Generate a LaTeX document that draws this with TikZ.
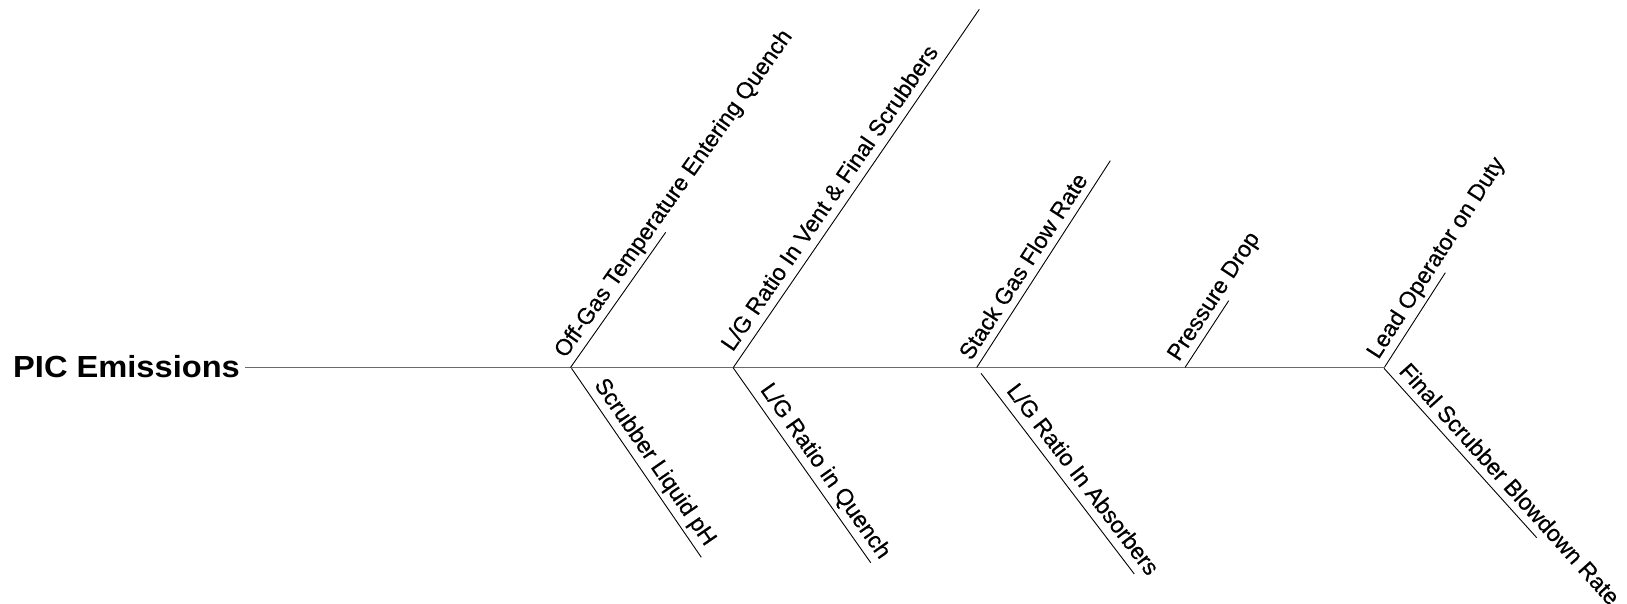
\documentclass[tikz,border=0pt]{standalone}
\usepackage{fontspec}
\usepackage{graphicx}
\setmainfont{Liberation Sans}
\newfontfamily\labfamily[FakeBold=0.5]{Liberation Sans}
\usetikzlibrary{calc}
\newcommand\labfont{\labfamily\fontsize{23}{28}\selectfont}
\newcommand\titlefont{\fontsize{30.5}{36}\selectfont\bfseries}
\newcommand\blabel[6]{\path ($(#1)!#3pt!90:(#2)$) -- ($(#2)!#3pt!-90:(#1)$) node[lab, pos=0, inner xsep=#4pt] (#5) {#6};}
\begin{document}
\begin{tikzpicture}[x=1pt,y=-1pt,
  spine/.style={draw=black!58, line width=1.6pt},
  branch/.style={draw=black, line width=0.9pt},
  lab/.style={sloped, anchor=base west, inner ysep=0pt, font=\labfont}]
\useasboundingbox (0,0) rectangle (1627,604);
% head
\node[anchor=base west, inner sep=0pt, font=\titlefont] (pic) at (13,377) {\scalebox{1.07}[1]{PIC Emissions}};
% coordinates
\coordinate (s0) at (245,367.5);
\coordinate (ju1) at (570.5,367.5);  \coordinate (eu1) at (665.7,232.3);
\coordinate (ju2) at (733.3,367.5);  \coordinate (eu2) at (979.3,9.3);
\coordinate (ju3) at (976.7,367.5);  \coordinate (eu3) at (1110.3,160.7);
\coordinate (ju4) at (1185,367.5);   \coordinate (eu4) at (1228.7,300.7);
\coordinate (ju5) at (1384.3,367.5); \coordinate (eu5) at (1445.3,272.7);
\coordinate (jl1) at (571.5,368.3);  \coordinate (el1) at (701.3,557.3);
\coordinate (jl2) at (733.3,368);    \coordinate (el2) at (870.7,562.7);
\coordinate (jl3) at (981,373.3);    \coordinate (el3) at (1134.3,574);
\coordinate (jl4) at (1384,368.3);   \coordinate (el4) at (1536.7,537.7);
% spine
\draw[spine] (s0) -- (ju5);
% branches
\draw[branch] (ju1) -- (eu1);
\draw[branch] (ju2) -- (eu2);
\draw[branch] (ju3) -- (eu3);
\draw[branch] (ju4) -- (eu4);
\draw[branch] (ju5) -- (eu5);
\draw[branch] (jl1) -- (el1);
\draw[branch] (jl2) -- (el2);
\draw[branch] (jl3) -- (el3);
\draw[branch] (jl4) -- (el4);
% labels
\blabel{ju1}{eu1}{9}{4}{t1}{Off-Gas Temperature Entering Quench}
\blabel{ju2}{eu2}{9}{12}{t2}{L/G Ratio In Vent \& Final Scrubbers}
\blabel{ju3}{eu3}{8}{2}{t3}{Stack Gas Flow Rate}
\blabel{ju4}{eu4}{8}{1}{t4}{Pressure Drop}
\blabel{ju5}{eu5}{9}{3}{t5}{Lead Operator on Duty}
\blabel{jl1}{el1}{9}{26}{t6}{Scrubber Liquid pH}
\blabel{jl2}{el2}{9}{33}{t7}{L/G Ratio in Quench}
\blabel{jl3}{el3}{9}{29}{t8}{L/G Ratio In Absorbers}
\blabel{jl4}{el4}{8}{12}{t9}{Final Scrubber Blowdown Rate}
\end{tikzpicture}
\end{document}
